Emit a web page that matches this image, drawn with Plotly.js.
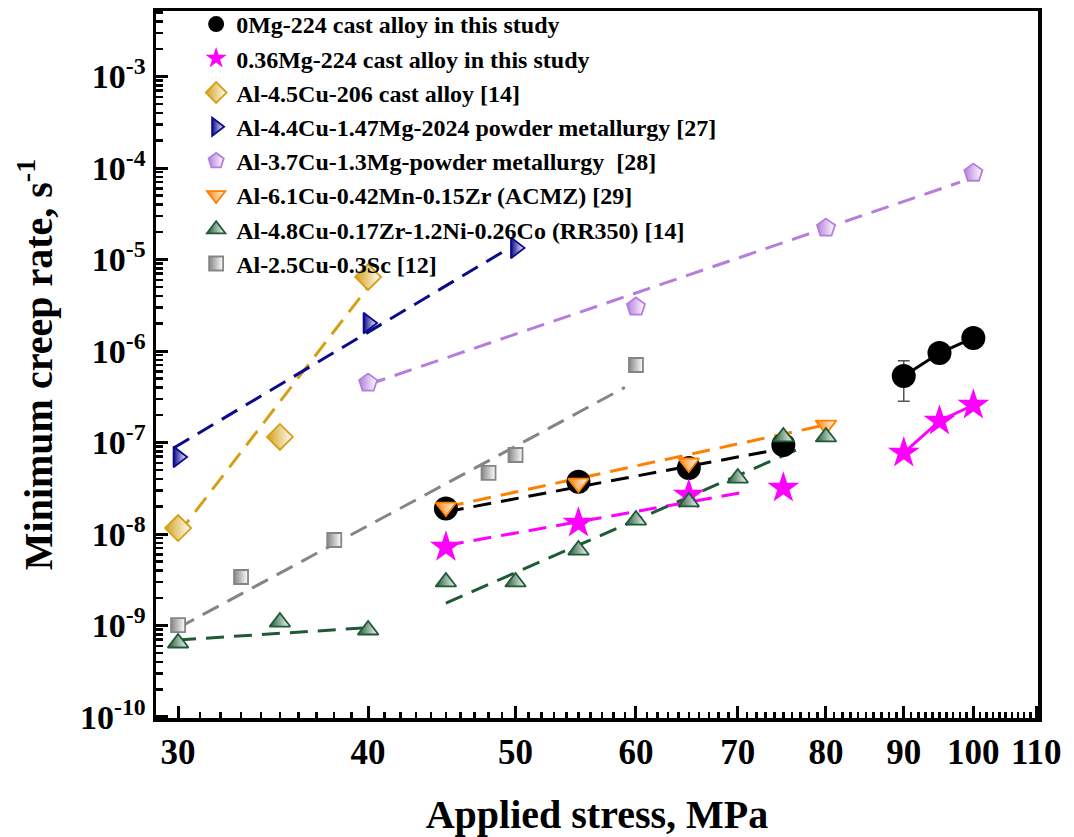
<!DOCTYPE html>
<html>
<head>
<meta charset="utf-8">
<script src="https://cdn.plot.ly/plotly-3.0.1.min.js"></script>
<style>html,body{margin:0;padding:0;background:#fff;}#chart{width:1074px;height:837px;}</style>
</head>
<body>
<div id="chart"></div>
<script>
// ---- tick labels ----
const xTickVals = [30, 40, 50, 60, 70, 80, 90, 100, 110];
const xTickText = ['30', '40', '50', '60', '70', '80', '90', '100', '110'];
const yTickVals = [1e-10, 1e-9, 1e-8, 1e-7, 1e-6, 1e-5, 1e-4, 1e-3];
const yTickText = ['10<sup>-10</sup>', '10<sup>-9</sup>', '10<sup>-8</sup>', '10<sup>-7</sup>',
                   '10<sup>-6</sup>', '10<sup>-5</sup>', '10<sup>-4</sup>', '10<sup>-3</sup>'];

// ---- series names ----
const seriesNames = [
  '0Mg-224 cast alloy in this study',
  '0.36Mg-224 cast alloy in this study',
  'Al-4.5Cu-206 cast alloy [14]',
  'Al-4.4Cu-1.47Mg-2024 powder metallurgy [27]',
  'Al-3.7Cu-1.3Mg-powder metallurgy  [28]',
  'Al-6.1Cu-0.42Mn-0.15Zr (ACMZ) [29]',
  'Al-4.8Cu-0.17Zr-1.2Ni-0.26Co (RR350) [14]',
  'Al-2.5Cu-0.3Sc [12]'
];

// ---- data (stress MPa, minimum creep rate 1/s) ----
const mg0X = [45, 55, 65, 75, 90, 95, 100];
const mg0Y = [1.90e-8, 3.73e-8, 5.26e-8, 9.4e-8, 5.33e-7, 9.5e-7, 1.39e-6];
const mg0Err = [0, 0, 0, 0, 2.5e-7, 0, 0];
const mg0FitX = [45, 75];
const mg0FitY = [1.75e-8, 8.6e-8];

const mg36X = [45, 55, 65, 75, 90, 95, 100];
const mg36Y = [7.2e-9, 1.32e-8, 2.67e-8, 3.18e-8, 7.7e-8, 1.72e-7, 2.57e-7];
const mg36FitX = [45, 71];
const mg36FitY = [7.5e-9, 2.9e-8];

const al45X = [30, 35, 40];
const al45Y = [1.16e-8, 1.15e-7, 6.44e-6];
const al45FitX = [30, 40];
const al45FitY = [1.0e-8, 5.0e-6];

const al44X = [30, 40, 50];
const al44Y = [6.95e-8, 2.02e-6, 1.34e-5];
const al44FitX = [29.8, 49];
const al44FitY = [8.7e-8, 1.2e-5];

const al37X = [40, 60, 80, 100];
const al37Y = [4.47e-7, 3.03e-6, 2.21e-5, 8.81e-5];
const al37FitX = [40, 98];
const al37FitY = [4.3e-7, 7.0e-5];

const al61X = [45, 55, 65, 80];
const al61Y = [1.97e-8, 3.6e-8, 5.97e-8, 1.55e-7];
const al61FitX = [45, 81];
const al61FitY = [1.97e-8, 1.63e-7];

const al48X = [30, 35, 40, 45, 50, 55, 60, 65, 70, 75, 80];
const al48Y = [6.44e-10, 1.09e-9, 8.93e-10, 2.99e-9, 2.99e-9, 6.68e-9, 1.42e-8, 2.24e-8, 4.09e-8, 1.15e-7, 1.15e-7];
const al48FitAX = [30, 39.7];
const al48FitAY = [6.95e-10, 9.4e-10];
const al48FitBX = [45, 77];
const al48FitBY = [1.76e-9, 8.7e-8];

const al25X = [30, 33, 38, 48, 50, 60];
const al25Y = [1.01e-9, 3.39e-9, 8.6e-9, 4.65e-8, 7.3e-8, 7.03e-7];
const al25FitX = [30, 59];
const al25FitY = [9.4e-10, 4.0e-7];

// ---- styles ----
const C = {
  black: '#000000', magenta: '#FF00FF', gold: '#D4A017', navy: '#0A0A8C',
  purple: '#B57EDC', orange: '#FF8000', green: '#1F5A36', gray: '#858585'
};
const FONT = 'Liberation Serif, Times New Roman, serif';

function fit(x, y, color) {
  return { x: x, y: y, type: 'scatter', mode: 'lines', showlegend: false, hoverinfo: 'skip',
           line: { color: color, width: 3, dash: '18px,10px' } };
}
function half(x, y, name, symbol, color, size) {
  return { x: x, y: y, name: name, type: 'scatter', mode: 'markers',
           marker: { symbol: symbol, size: size, color: color,
                     gradient: { type: 'horizontal', color: '#ffffff' },
                     line: { color: color, width: 1.8 } } };
}

const traces = [
  fit(mg0FitX, mg0FitY, C.black),
  fit(mg36FitX, mg36FitY, C.magenta),
  fit(al45FitX, al45FitY, C.gold),
  fit(al44FitX, al44FitY, C.navy),
  fit(al37FitX, al37FitY, C.purple),
  fit(al61FitX, al61FitY, C.orange),
  fit(al48FitAX, al48FitAY, C.green),
  fit(al48FitBX, al48FitBY, C.green),
  fit(al25FitX, al25FitY, C.gray),
  { x: mg0X.slice(4), y: mg0Y.slice(4), type: 'scatter', mode: 'lines', showlegend: false,
    line: { color: C.black, width: 3 } },
  { x: mg36X.slice(4), y: mg36Y.slice(4), type: 'scatter', mode: 'lines', showlegend: false,
    line: { color: C.magenta, width: 3 } },
  { x: mg0X, y: mg0Y, name: seriesNames[0], type: 'scatter', mode: 'markers',
    marker: { symbol: 'circle', size: 24, color: C.black },
    error_y: { type: 'data', array: mg0Err, visible: true, color: '#555555', thickness: 1.5, width: 6 } },
  { x: mg36X, y: mg36Y, name: seriesNames[1], type: 'scatter', mode: 'markers',
    marker: { symbol: 'star', size: 24, color: C.magenta } },
  half(al45X, al45Y, seriesNames[2], 'diamond', C.gold, 20),
  half(al44X, al44Y, seriesNames[3], 'triangle-right', C.navy, 18),
  half(al37X, al37Y, seriesNames[4], 'pentagon', C.purple, 19),
  half(al61X, al61Y, seriesNames[5], 'triangle-down', C.orange, 18),
  half(al48X, al48Y, seriesNames[6], 'triangle-up', C.green, 18),
  half(al25X, al25Y, seriesNames[7], 'square', C.gray, 14)
];

const layout = {
  width: 1074, height: 837,
  margin: { l: 156, r: 36, t: 11, b: 119, pad: 0, autoexpand: false },
  paper_bgcolor: '#ffffff', plot_bgcolor: '#ffffff',
  font: { family: FONT, color: '#000', weight: 'bold' },
  showlegend: true,
  legend: { x: 0.0455, y: 1.0127, xanchor: 'left', yanchor: 'top', bgcolor: 'rgba(0,0,0,0)',
            font: { family: FONT, size: 24, color: '#000', weight: 'bold' } },
  xaxis: {
    type: 'log', range: [1.4626, 2.0425],
    tickmode: 'array', tickvals: xTickVals, ticktext: xTickText,
    ticks: 'inside', ticklen: 12, tickwidth: 3, tickcolor: '#000',
    minor: { ticks: 'inside', dtick: 'L1', ticklen: 6, tickwidth: 2.5, tickcolor: '#000', showgrid: false },
    showline: true, linewidth: 3.5, linecolor: '#000', mirror: true,
    showgrid: false, zeroline: false,
    tickfont: { family: FONT, size: 35, color: '#000', weight: 'bold' },
    title: { text: 'Applied stress, MPa', font: { family: FONT, size: 40, color: '#000', weight: 'bold' }, standoff: 30 }
  },
  yaxis: {
    type: 'log', range: [-10.011, -2.284],
    tickmode: 'array', tickvals: yTickVals, ticktext: yTickText,
    ticks: 'inside', ticklen: 12, tickwidth: 3, tickcolor: '#000',
    minor: { ticks: 'inside', dtick: 'D1', ticklen: 7, tickwidth: 2.5, tickcolor: '#000', showgrid: false },
    showline: true, linewidth: 3.5, linecolor: '#000', mirror: true,
    showgrid: false, zeroline: false,
    tickfont: { family: FONT, size: 34, color: '#000', weight: 'bold' },
    title: { text: 'Minimum creep rate, s<sup>-1</sup>', font: { family: FONT, size: 40, color: '#000', weight: 'bold' }, standoff: 16 }
  }
};

Plotly.newPlot('chart', traces, layout, { displayModeBar: false, staticPlot: true });
</script>
</body>
</html>
